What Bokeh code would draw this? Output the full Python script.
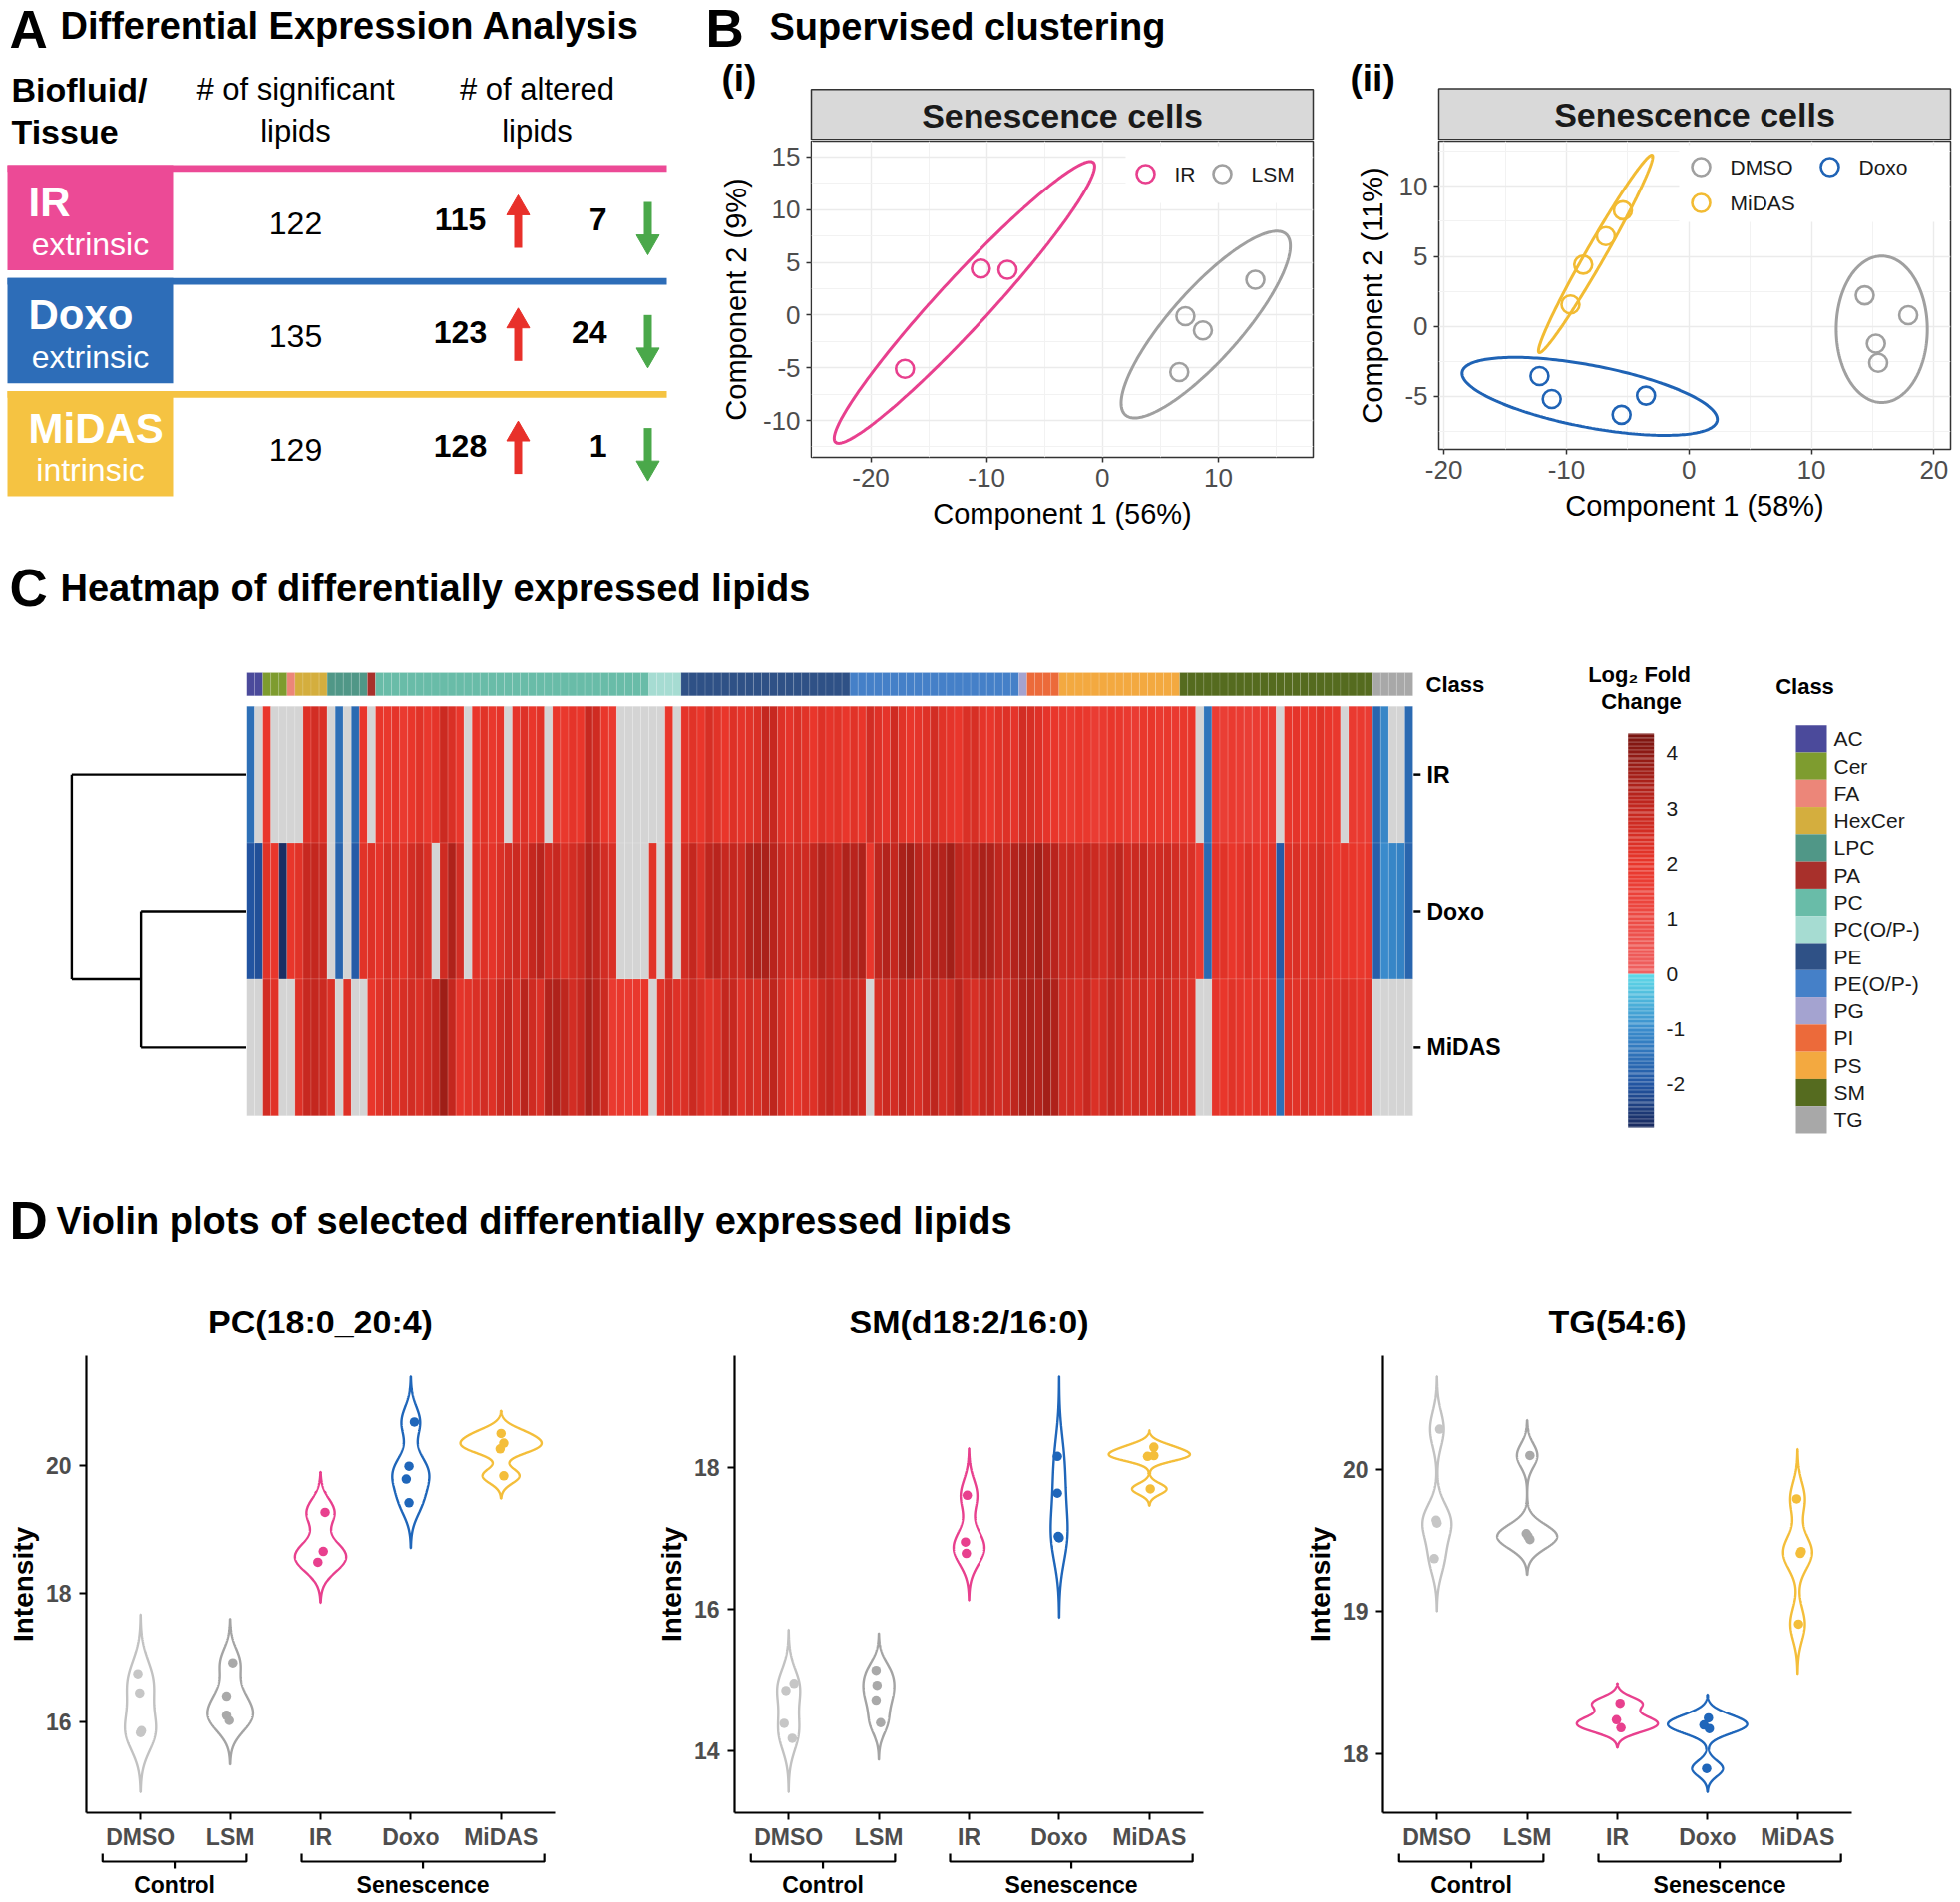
import numpy as np
from bokeh.plotting import figure
from bokeh.layouts import row, column
from bokeh.models import Range1d, FixedTicker, ColumnDataSource, LinearColorMapper
from bokeh.transform import transform
from bokeh.core.properties import value
from bokeh.embed import file_html
from bokeh.resources import INLINE

FONT = "Liberation Sans"

# ================= DATA =================
# --- Panel A: differential expression summary
treatments = ["IR", "Doxo", "MiDAS"]
treatment_kind = ["extrinsic", "extrinsic", "intrinsic"]
n_significant = [122, 135, 129]
n_up = [115, 123, 128]
n_down = [7, 24, 1]
treatment_colors = ["#EC4A96", "#2D6DB8", "#F5C342"]

# --- Panel B(i): PLS-DA scores, Senescence cells (IR vs LSM)
bi_groups = ["IR", "LSM"]
bi_x = [[-17.05, -10.5, -8.2], [7.16, 8.67, 6.63, 13.2]]
bi_y = [[-5.1, 4.42, 4.3], [-0.1, -1.45, -5.4, 3.36]]
bi_colors = ["#E8408E", "#A0A0A0"]
bi_xticks = [-20, -10, 0, 10]
bi_yticks = [-10, -5, 0, 5, 10, 15]

# --- Panel B(ii): PLS-DA scores (DMSO, Doxo, MiDAS)
bii_groups = ["DMSO", "Doxo", "MiDAS"]
bii_x = [[14.35, 17.9, 15.26, 15.45], [-12.2, -11.2, -5.5, -3.5], [-9.67, -8.63, -6.78, -5.39]]
bii_y = [[2.22, 0.8, -1.23, -2.6], [-3.54, -5.18, -6.31, -4.94], [1.57, 4.41, 6.45, 8.29]]
bii_colors = ["#A0A0A0", "#1F63B5", "#F2BB33"]
bii_xticks = [-20, -10, 0, 10, 20]
bii_yticks = [-5, 0, 5, 10]

# --- Panel C: heatmap of log2 fold change
class_names = ["AC", "Cer", "FA", "HexCer", "LPC", "PA", "PC", "PC(O/P-)", "PE",
               "PE(O/P-)", "PG", "PI", "PS", "SM", "TG"]
class_counts = [2, 3, 1, 4, 5, 1, 34, 4, 21, 21, 1, 4, 15, 24, 5]
class_colors = ["#4B4A9B", "#7E9C2F", "#EC8679", "#D4AE3E", "#509787", "#A8302B",
                "#69BCA8", "#A6DCD2", "#2F5186", "#4580C8", "#A4A3D0", "#EC6A3A",
                "#F3A940", "#556B1F", "#A8A8A8"]
hm_rows = ["IR", "Doxo", "MiDAS"]
NA = None
ir_lfc = [
    -1.5, NA, 2.0, NA, NA, NA, NA, 2.3, 2.6, 2.4,
    NA, -1.5, NA, -1.6, 2.0, NA, 2.0, 1.9, 2.1, 1.8,
    2.0, 2.2, 1.9, 2.1, 2.8, 2.4, 2.0, NA, 2.0, 2.2,
    1.9, 2.1, NA, 2.1, 2.3, 2.0, 2.2, NA, 2.0, 1.9,
    2.1, 2.0, 2.9, 2.7, 2.0, 1.8, NA, NA, NA, NA,
    NA, NA, 2.0, NA, 2.1, 2.2, 2.0, 2.5, 2.2, 2.0,
    2.3, 2.1, 2.2, 2.4, 3.0, 2.9, 2.3, 2.1, 2.4, 2.2,
    2.0, 2.3, 2.1, 2.2, 2.0, 2.2, 2.0, 2.6, 2.3, 2.1,
    2.7, 2.2, 2.0, 2.1, 2.3, 2.6, 2.2, 2.1, 2.0, 2.4,
    2.5, 2.1, 2.0, 2.2, 2.3, 2.1, 2.6, 2.5, 2.3, 2.1,
    2.0, 1.9, 1.8, 2.0, 1.9, 1.7, 1.8, 2.0, 1.9, 1.8,
    1.7, 1.9, 2.0, 1.8, 1.9, 1.8, 1.9, 2.0, NA, -1.4,
    1.7, 1.6, 1.8, 1.7, 1.6, 1.7, 1.8, 1.7, NA, 2.0,
    2.1, 1.9, 2.0, 2.2, 2.0, 1.9, NA, 1.8, 1.8, 1.7,
    -1.7, -1.1, NA, NA, -1.6]
doxo_lfc = [
    -2.0, -2.1, 2.2, 2.0, -2.7, 2.0, 2.2, 2.9, 3.0, 2.8,
    NA, -1.7, NA, -1.9, 2.2, 2.3, 2.1, 2.5, 2.4, 2.2,
    2.6, 2.8, 2.5, NA, 2.7, 3.4, 2.6, NA, 2.2, 2.3,
    2.1, 2.4, 2.6, 2.8, 2.5, 3.0, 3.2, 2.7, 2.9, 2.4,
    2.6, 2.8, 3.3, 3.1, 2.6, 2.4, NA, NA, NA, NA,
    2.2, NA, 2.6, NA, 2.6, 3.0, 2.4, 3.1, 3.2, 2.9,
    3.0, 2.8, 3.3, 3.4, 3.5, 3.2, 2.9, 2.6, 2.8, 2.7,
    3.0, 3.3, 3.1, 2.9, 3.4, 3.2, 3.4, 2.0, 3.1, 3.3,
    3.0, 3.5, 3.6, 3.2, 3.0, 3.4, 3.3, 3.6, 3.1, 3.0,
    3.2, 3.5, 3.4, 3.1, 3.0, 3.3, 3.5, 3.4, 3.6, 3.3,
    3.2, 2.8, 2.9, 2.7, 3.0, 2.8, 2.6, 2.9, 3.1, 2.7,
    2.8, 2.9, 2.6, 2.7, 2.8, 2.6, 2.5, 2.4, 1.8, -1.6,
    2.1, 2.2, 2.0, 2.1, 2.3, 2.1, 2.0, 2.2, -1.9, 2.3,
    2.4, 2.2, 2.3, 2.5, 2.2, 2.0, 2.1, 2.0, 1.9, 2.0,
    -1.8, -1.0, -1.1, -1.2, -1.7]
midas_lfc = [
    NA, NA, 2.6, 2.2, NA, NA, 2.3, 2.9, 3.0, 2.8,
    2.4, NA, 2.3, NA, NA, 2.0, 2.2, 2.6, 2.2, 2.5,
    2.6, 2.4, 2.7, 3.0, 3.7, 3.0, 2.1, 2.2, 2.4, 2.6,
    2.3, 2.8, 3.0, 2.5, 3.2, 2.7, 2.4, 3.3, 3.4, 3.1,
    2.6, 2.9, 3.5, 3.2, 2.8, 1.8, 1.9, 1.8, 1.9, 2.0,
    NA, 2.2, 2.6, 2.3, 2.4, 2.8, 2.5, 2.2, 2.4, 3.0,
    2.9, 2.3, 2.6, 2.5, 2.9, 3.1, 2.6, 2.2, 2.1, 2.4,
    2.3, 2.8, 3.0, 2.7, 2.9, 2.9, 2.7, NA, 2.5, 2.8,
    2.6, 3.0, 2.7, 2.5, 2.9, 3.1, 2.6, 2.8, 3.2, 2.7,
    2.5, 2.9, 3.0, 2.6, 2.8, 3.1, 3.4, 3.5, 3.3, 3.6,
    3.4, 2.6, 2.7, 2.5, 2.9, 2.4, 2.6, 3.0, 2.8, 2.5,
    2.6, 2.7, 2.4, 2.8, 2.6, 2.5, 2.4, 2.3, NA, NA,
    2.1, 2.0, 2.2, 2.1, 2.0, 2.2, 2.1, 2.0, -1.5, 2.3,
    2.2, 2.4, 2.3, 2.1, 2.3, 2.2, 2.4, 2.2, 2.1, 2.3,
    NA, NA, NA, NA, NA]
lfc_ticks = [-2, -1, 0, 1, 2, 3, 4]
lfc_limits = [-2.78, 4.36]
dendro_heights = [10.6, 17.5]   # (Doxo, MiDAS) merge, root merge

# --- Panel D: violin plots
groups = ["DMSO", "LSM", "IR", "Doxo", "MiDAS"]
group_line_colors = ["#C2C2C2", "#A4A4A4", "#E8408E", "#1F66BA", "#F4BE3A"]
group_point_colors = ["#C6C6C6", "#A9A9A9", "#E8408E", "#1F66BA", "#F4BE3A"]
pc_name = "PC(18:0_20:4)"
pc_vals = [[16.75, 16.45, 15.86, 15.83], [16.92, 16.40, 16.10, 16.02], [19.27, 18.66, 18.49],
           [20.68, 19.99, 19.79, 19.42], [20.50, 20.35, 20.26, 19.84]]
pc_jit = [[-.03, -.01, .01, 0], [.03, -.04, -.04, -.01], [.05, .03, -.03],
          [.04, -.02, -.05, -.02], [0, .03, -.01, .03]]
pc_yticks = [16, 18, 20]
sm_name = "SM(d18:2/16:0)"
sm_vals = [[14.855, 14.955, 14.39, 14.18], [15.14, 14.93, 14.72, 14.40], [17.61, 16.95, 16.79],
           [18.16, 17.64, 17.03, 17.01], [18.29, 18.16, 18.17, 17.70]]
sm_jit = [[-.03, .06, -.05, .04], [-.03, -.02, -.03, .02], [-.02, -.04, -.03],
          [-.02, -.02, -.01, 0], [.05, -.02, .05, .01]]
sm_yticks = [14, 16, 18]
tg_name = "TG(54:6)"
tg_vals = [[20.28, 19.64, 19.62, 19.37], [20.095, 19.546, 19.526, 19.504], [18.354, 18.237, 18.181],
           [18.25, 18.20, 18.175, 17.894], [19.79, 19.42, 19.407, 18.91]]
tg_jit = [[.03, -.01, 0, -.03], [.03, -.01, .01, .03], [.03, -.01, .04],
          [.01, -.04, .02, -.01], [-.01, .04, .03, .01]]
tg_yticks = [18, 19, 20]
group_sets = ["Control", "Senescence"]

# ================= HELPERS =================
def canvas(x0, x1, y0, y1, x_range=None, y_range=None):
    p = figure(width=int(round(x1 - x0)), height=int(round(y1 - y0)),
               x_range=x_range if x_range is not None else Range1d(x0, x1),
               y_range=y_range if y_range is not None else Range1d(y1, y0),
               output_backend="svg", toolbar_location=None,
               min_border_left=0, min_border_right=0, min_border_top=0, min_border_bottom=0)
    p.xaxis.visible = False
    p.yaxis.visible = False
    p.xgrid.visible = False
    p.ygrid.visible = False
    p.outline_line_color = None
    p.background_fill_color = "white"
    p.border_fill_color = "white"
    return p


def txt(p, x, y, s, size, bold=False, color="#000000", align="left", baseline="middle", angle=0.0):
    xs = list(x) if isinstance(x, (list, tuple)) else [x]
    ys = list(y) if isinstance(y, (list, tuple)) else [y]
    ss = list(s) if isinstance(s, (list, tuple)) else [s]
    p.text(x=xs, y=ys, text=[str(t) for t in ss], text_font=value(FONT),
           text_font_size=f"{size}px", text_font_style="bold" if bold else "normal",
           text_color=color, text_align=align, text_baseline=baseline, angle=angle)


def conf_ellipse(xs, ys, k=2.4477, n=240):
    X = np.vstack([xs, ys]).astype(float)
    m = X.mean(axis=1)
    C = np.cov(X)
    vals, vecs = np.linalg.eigh(C)
    t = np.linspace(0, 2 * np.pi, n)
    circ = np.vstack([np.cos(t), np.sin(t)])
    pts = m[:, None] + k * (vecs @ (np.sqrt(np.maximum(vals, 0))[:, None] * circ))
    return pts[0], pts[1]


def pad_range(lo, hi, f=0.05):
    s = hi - lo
    return lo - f * s, hi + f * s


def minor_of(ticks):
    step = ticks[1] - ticks[0]
    return [t - step / 2 for t in ticks] + [ticks[-1] + step / 2]


# ================= PANEL A =================
figA = canvas(0, 700, 0, 548)
txt(figA, 9, 29, "A", 53, bold=True)
txt(figA, 60, 25, "Differential Expression Analysis", 38, bold=True)
txt(figA, 11, 89, "Biofluid/", 34, bold=True)
txt(figA, 11, 131, "Tissue", 34, bold=True)
txt(figA, 296, 89, "# of significant", 31, align="center")
txt(figA, 296, 131, "lipids", 31, align="center")
txt(figA, 538, 89, "# of altered", 31, align="center")
txt(figA, 538, 131, "lipids", 31, align="center")

tops = [165 + 113.3 * i for i in range(len(treatments))]
figA.quad(left=7, right=668, top=tops, bottom=[t + 6.7 for t in tops],
          fill_color=treatment_colors, line_color=None)
figA.quad(left=7, right=173, top=tops, bottom=[t + 105.5 for t in tops],
          fill_color=treatment_colors, line_color=None)
txt(figA, [28] * 3, [t + 37 for t in tops], treatments, 42, bold=True, color="white")
txt(figA, [90] * 3, [t + 79 for t in tops], treatment_kind, 32, color="white", align="center")
txt(figA, [296] * 3, [t + 58.5 for t in tops], n_significant, 32, align="center")
txt(figA, [461] * 3, [t + 54.5 for t in tops], n_up, 32, bold=True, align="center")
txt(figA, [608] * 3, [t + 54.5 for t in tops], n_down, 32, bold=True, align="right")

RED, GREEN = "#E8302A", "#4AA84A"
tri = 23
tri_h = tri * np.sqrt(3) / 2
up_tip = [t + 30 for t in tops]
figA.segment(x0=[519] * 3, y0=[t + 83 for t in tops], x1=[519] * 3, y1=[u + tri_h - 1 for u in up_tip],
             line_color=RED, line_width=8)
figA.scatter(x=[519] * 3, y=[u + 2 * tri_h / 3 for u in up_tip], marker="triangle", size=tri,
             fill_color=RED, line_color=RED)
dn_tip = [t + 90 for t in tops]
figA.segment(x0=[649] * 3, y0=[t + 37 for t in tops], x1=[649] * 3, y1=[d - tri_h + 1 for d in dn_tip],
             line_color=GREEN, line_width=8)
figA.scatter(x=[649] * 3, y=[d - 2 * tri_h / 3 for d in dn_tip], marker="inverted_triangle", size=tri,
             fill_color=GREEN, line_color=GREEN)


# ================= PANEL B =================
def pca_panel(x0, x1, y0, y1, bl, br, bt, bb, xs, ys, names, colors, xticks, yticks,
              xlabel, ylabel, legend_box, legend_items):
    ells = [conf_ellipse(a, b) for a, b in zip(xs, ys)]
    ax = np.concatenate([e[0] for e in ells])
    ay = np.concatenate([e[1] for e in ells])
    fl, fr, ft, fb = x0 + bl, x1 - br, y0 + bt, y1 - bb
    xr = pad_range(ax.min(), ax.max())
    yr = list(pad_range(ay.min(), ay.max()))
    # keep the top tick label inside the figure
    for _ in range(4):
        ppu = (fb - ft) / (yr[1] - yr[0])
        yr[1] = max(yr[1], max(yticks) + 16.0 / ppu)
    yr = tuple(yr)
    p = figure(width=x1 - x0, height=y1 - y0,
               x_range=Range1d(*xr), y_range=Range1d(*yr),
               output_backend="svg", toolbar_location=None,
               min_border_left=bl, min_border_right=br, min_border_top=bt, min_border_bottom=bb)

    def dx(px):
        return xr[0] + (px - fl) / (fr - fl) * (xr[1] - xr[0])

    def dy(py):
        return yr[1] - (py - ft) / (fb - ft) * (yr[1] - yr[0])

    for e, c in zip(ells, colors):
        p.line(e[0], e[1], line_color=c, line_width=3)
    for a, b, c in zip(xs, ys, colors):
        p.scatter(a, b, marker="circle", size=18, fill_color=None, line_color=c, line_width=2.6)
    # legend (drawn inside the panel, top right)
    bx0, by0, bx1, by1 = legend_box
    p.quad(left=dx(bx0), right=dx(bx1), top=dy(by0), bottom=dy(by1), fill_color="white", line_color=None)
    lx = [dx(it[0]) for it in legend_items]
    ly = [dy(it[1]) for it in legend_items]
    p.scatter(lx, ly, marker="circle", size=18, fill_color=None, line_color=colors, line_width=2.6)
    txt(p, [dx(it[0] + 29) for it in legend_items], ly, names, 21, color="#1A1A1A")

    p.xaxis.ticker = FixedTicker(ticks=xticks, minor_ticks=minor_of(xticks))
    p.yaxis.ticker = FixedTicker(ticks=yticks, minor_ticks=minor_of(yticks))
    p.xaxis.major_label_overrides = {t: str(t) for t in xticks}
    p.yaxis.major_label_overrides = {t: str(t) for t in yticks}
    p.xgrid.grid_line_color = "#EBEBEB"
    p.ygrid.grid_line_color = "#EBEBEB"
    p.xgrid.grid_line_width = 1.4
    p.ygrid.grid_line_width = 1.4
    p.xgrid.minor_grid_line_color = "#F2F2F2"
    p.ygrid.minor_grid_line_color = "#F2F2F2"
    p.outline_line_color = "#333333"
    p.outline_line_width = 1.5
    p.axis.axis_line_color = None
    p.axis.major_tick_line_color = "#333333"
    p.axis.major_tick_line_width = 1.5
    p.axis.major_tick_out = 5
    p.axis.major_tick_in = 0
    p.axis.minor_tick_line_color = None
    p.axis.major_label_text_font = FONT
    p.axis.major_label_text_font_size = "26px"
    p.axis.major_label_text_color = "#4D4D4D"
    p.axis.major_label_standoff = 6
    p.axis.axis_label_text_font = FONT
    p.axis.axis_label_text_font_size = "29px"
    p.axis.axis_label_text_font_style = "normal"
    p.axis.axis_label_text_color = "#000000"
    p.axis.axis_label_standoff = 8
    p.xaxis.axis_label = xlabel
    p.yaxis.axis_label = ylabel
    return p


HB = 140  # bottom of panel B header strip
hdrB = canvas(700, 1965, 0, HB)
txt(hdrB, 707, 28, "B", 53, bold=True)
txt(hdrB, 771, 26, "Supervised clustering", 38, bold=True)
txt(hdrB, 723, 78, "(i)", 37, bold=True)
txt(hdrB, 1353, 78, "(ii)", 37, bold=True)
hdrB.quad(left=[813, 1442], right=[1316, 1955], top=[89.3, 88.4], bottom=[HB - 0.7] * 2,
          fill_color="#D9D9D9", line_color="#333333", line_width=1.5)
txt(hdrB, [(813 + 1316) / 2, (1442 + 1955) / 2], [115, 114.5], ["Senescence cells"] * 2, 34,
    bold=True, align="center", color="#1A1A1A")

plot_i = pca_panel(700, 1340, HB, 548, 113, 24, 1, 90, bi_x, bi_y, bi_groups, bi_colors,
                   bi_xticks, bi_yticks, "Component 1 (56%)", "Component 2 (9%)",
                   (1128, 146, 1314, 203), [(1148, 174), (1225, 174)])
plot_ii = pca_panel(1340, 1965, HB, 548, 102, 10, 1, 98, bii_x, bii_y, bii_groups, bii_colors,
                    bii_xticks, bii_yticks, "Component 1 (58%)", "Component 2 (11%)",
                    (1683, 145, 1953, 222), [(1705, 167), (1834, 167), (1705, 203)])

row1 = row(figA, column(column(hdrB), row(column(plot_i), column(plot_ii))))

# ================= PANEL C =================
titleC = canvas(0, 1965, 548, 618)
txt(titleC, 9, 589, "C", 53, bold=True)
txt(titleC, 60, 589, "Heatmap of differentially expressed lipids", 38, bold=True)

col_classes = list(np.repeat(class_names, class_counts))
ncol = len(col_classes)
hm_values = [ir_lfc, doxo_lfc, midas_lfc]
hm_values = [(list(v) + [NA] * ncol)[:ncol] for v in hm_values]

R2_TOP, R2_BOT = 618.0, 1160.0
HM_L, HM_R, HM_T, HM_B = 247.0, 1416.0, 707.7, 1118.3
ppc = (HM_R - HM_L) / ncol
nrow = len(hm_rows)
row_h = (HM_B - HM_T) / nrow
hm_yr = Range1d(-0.5 - (R2_BOT - HM_B) / row_h, nrow - 0.5 + (HM_T - R2_TOP) / row_h)


def ramp(stops, v):
    v = min(max(v, stops[0][0]), stops[-1][0])
    for (a, ca), (b, cb) in zip(stops[:-1], stops[1:]):
        if v <= b:
            t = (v - a) / (b - a) if b > a else 0
            c = [int(round(ca[k] + t * (cb[k] - ca[k]))) for k in range(3)]
            return "#%02x%02x%02x" % tuple(c)
    c = stops[-1][1]
    return "#%02x%02x%02x" % tuple(c)


neg_stops = [(-2.78, (0x1A, 0x2A, 0x5E)), (-2.0, (0x22, 0x55, 0xA2)), (-1.0, (0x3A, 0x8C, 0xCC)),
             (0.0, (0x5F, 0xDA, 0xE8))]
pos_stops = [(0.0, (0xEF, 0x62, 0x62)), (1.0, (0xEC, 0x4B, 0x45)), (2.0, (0xE9, 0x36, 0x2B)),
             (3.0, (0xC4, 0x27, 0x1F)), (4.0, (0x8E, 0x1A, 0x14)), (4.36, (0x78, 0x14, 0x10))]
lo, hi = lfc_limits
n_pal = 357
wbin = (hi - lo) / n_pal
palette = []
for i in range(n_pal):
    v = lo + (i + 0.5) * wbin
    palette.append(ramp(neg_stops if v < 0 else pos_stops, v))
mapper = LinearColorMapper(palette=palette, low=lo, high=hi, nan_color="#D4D4D4")

heat = canvas(247, 1560, R2_TOP, R2_BOT, x_range=Range1d(0, (1560 - 247) / ppc), y_range=hm_yr)
hx, hy, hv = [], [], []
for r, vals in enumerate(hm_values):
    for c, v in enumerate(vals):
        hx.append(c + 0.5)
        hy.append(nrow - 1 - r)
        hv.append(float("nan") if v is None else float(v))
heat.rect(x="x", y="y", width=1, height=1,
          source=ColumnDataSource(dict(x=hx, y=hy, v=hv)),
          fill_color=transform("v", mapper), line_color="white", line_alpha=0.14, line_width=1)
cls_color = dict(zip(class_names, class_colors))
bar_y = nrow - 0.5 + (HM_T - (674 + 697.3) / 2) / row_h
bar_h = (697.3 - 674) / row_h
heat.rect(x=[c + 0.5 for c in range(ncol)], y=[bar_y] * ncol, width=1, height=bar_h,
          fill_color=[cls_color[k] for k in col_classes], line_color="white", line_alpha=0.12, line_width=1)
row_ys = [nrow - 1 - r for r in range(nrow)]
heat.segment(x0=[ncol + 0.1] * nrow, y0=row_ys, x1=[ncol + 0.1 + 7 / ppc] * nrow, y1=row_ys,
             line_color="black", line_width=2.5)
txt(heat, [ncol + 14 / ppc] * nrow, row_ys, hm_rows, 23, bold=True)
txt(heat, ncol + 13 / ppc, bar_y, "Class", 22, bold=True)

h1, h2 = dendro_heights
ppd = (HM_L - 71.4) / h2
dendro = canvas(0, 247, R2_TOP, R2_BOT, x_range=Range1d(HM_L / ppd, 0), y_range=hm_yr)
dendro.multi_line(xs=[[0, h2], [0, h1], [0, h1], [h1, h1], [h1, h2], [h2, h2]],
                  ys=[[2, 2], [1, 1], [0, 0], [0, 1], [0.5, 0.5], [0.5, 2]],
                  line_color="black", line_width=2.4)

# colour bar
CB_TOP, CB_BOT = 735.0, 1130.0
ppu = (CB_BOT - CB_TOP) / (hi - lo)
cbar = canvas(1560, 1760, R2_TOP, R2_BOT,
              y_range=Range1d(lo - (R2_BOT - CB_BOT) / ppu, hi + (CB_TOP - R2_TOP) / ppu))
nseg = 300
seg_vals = [lo + (i + 0.5) * (hi - lo) / nseg for i in range(nseg)]
cbar.rect(x="x", y="v", width=26, height=(hi - lo) / nseg * 1.06,
          source=ColumnDataSource(dict(x=[1644.7] * nseg, v=seg_vals)),
          fill_color=transform("v", mapper), line_color=None)
txt(cbar, [1670] * len(lfc_ticks), lfc_ticks, [str(t) for t in lfc_ticks], 21, color="#1A1A1A")
txt(cbar, 1643, hi + (CB_TOP - 676) / ppu, "Log\u2082 Fold", 22, bold=True, align="center")
txt(cbar, 1645, hi + (CB_TOP - 703) / ppu, "Change", 22, bold=True, align="center")

# class legend
clsleg = canvas(1760, 1965, R2_TOP, R2_BOT)
txt(clsleg, 1809, 688, "Class", 22, bold=True, align="center")
sw_top, sw_h = 726.7, (1136.0 - 726.7) / len(class_names)
sw_y = [sw_top + sw_h * (i + 0.5) for i in range(len(class_names))]
clsleg.rect(x=[1815.5] * len(class_names), y=sw_y, width=31, height=sw_h,
            fill_color=class_colors, line_color=None)
txt(clsleg, [1838] * len(class_names), sw_y, class_names, 21, color="#1A1A1A")

row2 = row(dendro, heat, cbar, clsleg)

# ================= PANEL D =================
V_TOP, V_BOT, BR_BOT = 1345.0, 1857.0, 1907.0
v_specs = [(0, 650, 86, 94), (650, 1300, 86, 94), (1300, 1965, 86, 109)]
titleD = canvas(0, 1965, 1160, V_TOP)
txt(titleD, 9, 1223, "D", 53, bold=True)
txt(titleD, 56, 1223, "Violin plots of selected differentially expressed lipids", 38, bold=True)
for (x0, x1, bl, br), name in zip(v_specs, [pc_name, sm_name, tg_name]):
    txt(titleD, (x0 + bl + x1 - br) / 2, 1324, name, 34, bold=True, align="center")


def bw_nrd0(x):
    x = np.asarray(x, float)
    sd = np.std(x, ddof=1)
    q75, q25 = np.percentile(x, [75, 25])
    return 0.9 * min(sd, (q75 - q25) / 1.34) * len(x) ** (-0.2)


def violin_panel(spec, vals, jit, yticks):
    x0, x1, bl, br = spec
    grids, dens = [], []
    for v in vals:
        v = np.asarray(v, float)
        bw = bw_nrd0(v)
        g = np.linspace(v.min() - 3 * bw, v.max() + 3 * bw, 512)
        d = np.exp(-0.5 * ((g[:, None] - v[None, :]) / bw) ** 2).sum(axis=1) / (len(v) * bw * np.sqrt(2 * np.pi))
        grids.append(g)
        dens.append(d)
    dmax = max(d.max() for d in dens)
    ymin = min(g.min() for g in grids)
    ymax = max(g.max() for g in grids)
    xr = Range1d(0.4, len(groups) + 0.6)
    p = figure(width=x1 - x0, height=int(V_BOT - V_TOP), x_range=xr,
               y_range=Range1d(*pad_range(ymin, ymax)),
               output_backend="svg", toolbar_location=None,
               min_border_left=bl, min_border_right=br, min_border_top=14, min_border_bottom=38)
    xs_l, ys_l = [], []
    for i, (g, d) in enumerate(zip(grids, dens)):
        hw = 0.45 * d / dmax
        cx = i + 1
        xs_l.append(np.concatenate([cx + hw, (cx - hw)[::-1]]).tolist())
        ys_l.append(np.concatenate([g, g[::-1]]).tolist())
    p.patches(xs=xs_l, ys=ys_l, fill_color=None, line_color=group_line_colors, line_width=2.4)
    px, py, pcol = [], [], []
    for i, (v, j) in enumerate(zip(vals, jit)):
        for a, b in zip(v, j):
            px.append(i + 1 + b)
            py.append(a)
            pcol.append(group_point_colors[i])
    p.scatter(x=px, y=py, size=9.5, fill_color=pcol, line_color=None)
    p.xaxis.ticker = FixedTicker(ticks=list(range(1, len(groups) + 1)))
    p.xaxis.major_label_overrides = {i + 1: g for i, g in enumerate(groups)}
    p.yaxis.ticker = FixedTicker(ticks=yticks)
    p.grid.visible = False
    p.outline_line_color = None
    p.axis.axis_line_color = "black"
    p.axis.axis_line_width = 2.2
    p.axis.major_tick_line_color = "black"
    p.axis.major_tick_line_width = 2
    p.axis.major_tick_out = 7
    p.axis.major_tick_in = 0
    p.axis.minor_tick_line_color = None
    p.axis.major_label_text_font = FONT
    p.axis.major_label_text_font_size = "23px"
    p.axis.major_label_text_font_style = "bold"
    p.axis.major_label_text_color = "#4D4D4D"
    p.xaxis.major_label_standoff = 4
    p.yaxis.major_label_standoff = 8
    p.yaxis.axis_label = "Intensity"
    p.yaxis.axis_label_text_font = FONT
    p.yaxis.axis_label_text_font_size = "28px"
    p.yaxis.axis_label_text_font_style = "bold"
    p.yaxis.axis_label_text_color = "black"
    p.yaxis.axis_label_standoff = 4

    b = figure(width=x1 - x0, height=int(BR_BOT - V_BOT), x_range=xr, y_range=Range1d(BR_BOT, V_BOT),
               output_backend="svg", toolbar_location=None,
               min_border_left=bl, min_border_right=br, min_border_top=0, min_border_bottom=0)
    b.xaxis.visible = False
    b.yaxis.visible = False
    b.grid.visible = False
    b.outline_line_color = None
    spans = [(0.58, 2.18), (2.79, 5.48)]
    segx, segy = [], []
    for a0, a1 in spans:
        m = (a0 + a1) / 2
        segx += [[a0, a0, a1, a1], [m, m]]
        segy += [[1858, 1866, 1866, 1858], [1866, 1873]]
    b.multi_line(xs=segx, ys=segy, line_color="black", line_width=2.2)
    txt(b, [(a0 + a1) / 2 for a0, a1 in spans], [1889] * 2, group_sets, 23, bold=True, align="center")
    return column(p, b)


row3 = row(violin_panel(v_specs[0], pc_vals, pc_jit, pc_yticks),
           violin_panel(v_specs[1], sm_vals, sm_jit, sm_yticks),
           violin_panel(v_specs[2], tg_vals, tg_jit, tg_yticks))

page = column(row1, titleC, row2, titleD, row3)
open("out.html", "w").write(file_html(page, INLINE))
